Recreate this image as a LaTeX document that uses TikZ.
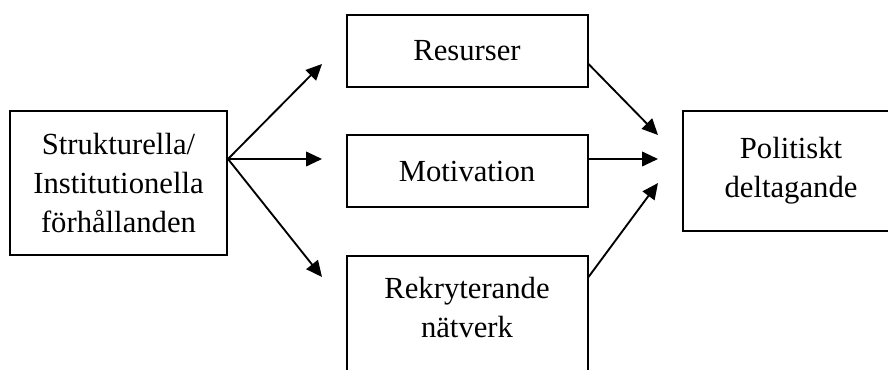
\documentclass[tikz,border=0pt]{standalone}
\usepackage{fontspec}
\setmainfont{Liberation Serif}
\usetikzlibrary{arrows.meta}
\newcommand{\diafont}{\fontsize{23pt}{29.25pt}\selectfont}

\begin{document}
\begin{tikzpicture}[x=0.75pt,y=-0.75pt,font=\diafont,
        box/.style={draw,line width=1.5pt,align=center,inner sep=0pt},
        pil/.style={line width=1.4pt,-{Triangle[length=12pt,width=11pt]}}]
            \useasboundingbox (0,0) rectangle (888,370);
            \clip (0,0) rectangle (888,370);
            \node[box,minimum width=162.75pt,minimum height=108pt] (struk) at (118.5,183) {Strukturella/\\Institutionella\\förhållanden};
            \node[box,minimum width=180.75pt,minimum height=54pt] (res) at (467,51) {Resurser};
            \node[box,minimum width=180.75pt,minimum height=54pt] (mot) at (467,171) {Motivation};
            \node[box,minimum width=180.75pt,minimum height=150pt,anchor=north,
                label={[name=natv,anchor=north,align=center,yshift=-13pt]north:Rekryterande\\nätverk}] (rek) at (467,255) {};
            \node[box,minimum height=90pt,minimum width=300pt,anchor=west] (pol) at (682,171) {};
            \node[align=center] (poltxt) at (791,171) {Politiskt\\deltagande};
            \coordinate (fork) at ([yshift=18pt]struk.east);
            \coordinate (tres) at (322,64);
            \coordinate (tmot) at (322,159);
            \coordinate (trek) at (322,277);
            \coordinate (ures) at ([yshift=-9.75pt]res.east);
            \coordinate (umot) at ([yshift=9pt]mot.east);
            \coordinate (urek) at ([yshift=-16.5pt]rek.north east);
            \coordinate (pa) at (658,135);
            \coordinate (pb) at (658,159);
            \coordinate (pc) at (658,183);
            \draw[pil] (fork) -- (tres);
            \draw[pil] (fork) -- (tmot);
            \draw[pil] (fork) -- (trek);
            \draw[pil] (ures) -- (pa);
            \draw[pil] (umot) -- (pb);
            \draw[pil] (urek) -- (pc);
        \end{tikzpicture}
\end{document}
